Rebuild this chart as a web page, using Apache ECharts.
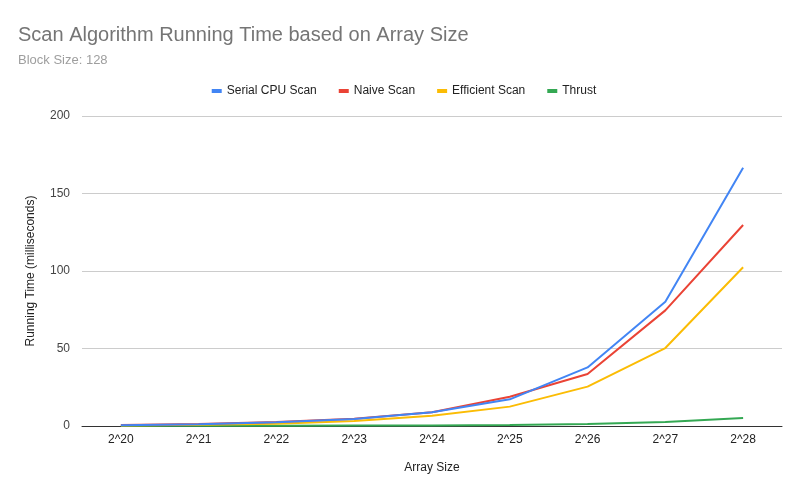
<!DOCTYPE html>
<html><head><meta charset="utf-8">
<script src="https://cdn.jsdelivr.net/npm/echarts@6/dist/echarts.min.js"></script>
<style>html,body{margin:0;padding:0;background:#fff}#c{width:808px;height:498px}</style>
</head><body><div id="c"></div>
<script>
const categories = ['2^20','2^21','2^22','2^23','2^24','2^25','2^26','2^27','2^28'];
const serialCpu = [0.5, 1.2, 2.4, 4.5, 8.8, 17.2, 37.8, 80.2, 166.6];
const naiveScan = [0.6, 1.3, 2.6, 4.6, 8.9, 18.9, 33.5, 74.6, 129.7];
const efficientScan = [0.4, 0.8, 1.5, 3.2, 6.6, 12.5, 25.4, 50.3, 102.4];
const thrust = [0.1, 0.15, 0.2, 0.3, 0.4, 0.7, 1.3, 2.6, 5.2];
const seriesNames = ['Serial CPU Scan','Naive Scan','Efficient Scan','Thrust'];
const colors = ['#4285f4','#ea4335','#fbbc04','#34a853'];
const font = 'Liberation Sans, Arial, sans-serif';
const chart = echarts.init(document.getElementById('c'));
const data = [serialCpu, naiveScan, efficientScan, thrust];
chart.setOption({
  animation:false,
  color: colors,
  title: {
    text: 'Scan Algorithm Running Time based on Array Size',
    subtext: 'Block Size: 128',
    left: 13, top: 20,
    itemGap: 9,
    textStyle: {fontFamily: font, fontSize: 20, fontWeight: 'normal', color: '#757575'},
    subtextStyle: {fontFamily: font, fontSize: 13, color: '#9e9e9e'}
  },
  legend: {
    top: 80, left: 'center',
    itemWidth: 10, itemHeight: 4, itemGap: 22,
    icon: 'rect',
    textStyle: {fontFamily: font, fontSize: 12, color: '#222'},
    data: seriesNames
  },
  grid: {left: 82, right: 26, top: 116, bottom: 72, containLabel: false},
  xAxis: {
    type: 'category', data: categories, boundaryGap: true,
    name: 'Array Size', nameLocation: 'middle', nameGap: 36,
    nameTextStyle: {fontFamily: font, fontSize: 12, color: '#222'},
    axisLine: {lineStyle: {color: '#333', width: 1}},
    axisTick: {show: false},
    axisLabel: {fontFamily: font, fontSize: 12, color: '#222', margin: 8}
  },
  yAxis: {
    type: 'value', min: 0, max: 200, interval: 50,
    name: 'Running Time (milliseconds)', nameLocation: 'middle', nameGap: 45,
    nameTextStyle: {fontFamily: font, fontSize: 12, color: '#222'},
    axisLine: {show: false}, axisTick: {show: false},
    axisLabel: {fontFamily: font, fontSize: 12, color: '#444', margin: 12},
    splitLine: {lineStyle: {color: '#ccc'}}
  },
  series: seriesNames.map((n,i)=>({
    name: n, type: 'line', data: data[i], showSymbol: false, symbol: 'none',
    lineStyle: {width: 2}, z: 10 - i
  }))
});
</script></body></html>
